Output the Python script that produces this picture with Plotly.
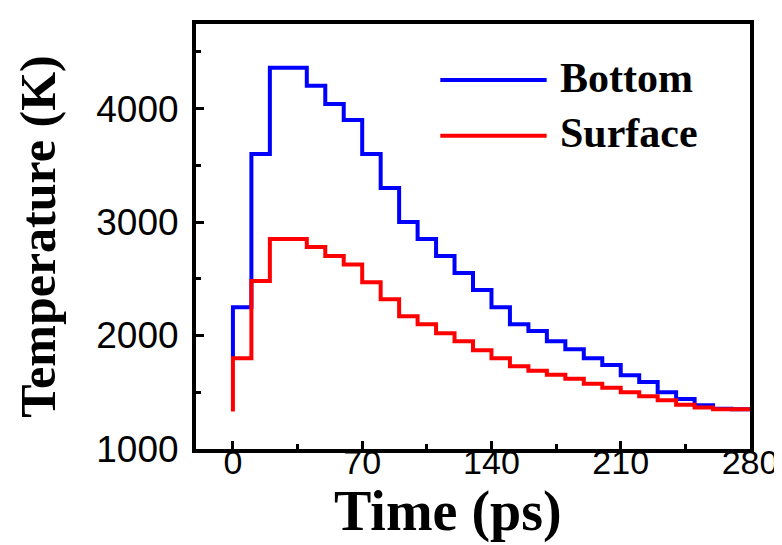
import plotly.graph_objects as go

time_ps = [0, 10, 20, 30, 40, 50, 60, 70, 80, 90, 100, 110, 120, 130, 140,
           150, 160, 170, 180, 190, 200, 210, 220, 230, 240, 250, 260, 270, 280]
bottom_K = [1800, 2250, 3600, 4360, 4360, 4200, 4040, 3900, 3600, 3300, 3000,
            2850, 2700, 2550, 2400, 2250, 2100, 2040, 1950, 1880, 1800, 1740,
            1650, 1590, 1500, 1440, 1385, 1355, 1350]
surface_K = [1330, 1800, 2480, 2850, 2850, 2780, 2700, 2625, 2470, 2320, 2170,
             2100, 2020, 1950, 1870, 1800, 1730, 1690, 1655, 1620, 1575, 1540,
             1500, 1465, 1430, 1390, 1365, 1350, 1350]
series_names = ["Bottom", "Surface"]
series_colors = ["#0000FF", "#FF0000"]
x_ticks = [0, 70, 140, 210, 280]
y_ticks = [1000, 2000, 3000, 4000]
x_title = "Time (ps)"
y_title = "Temperature (K)"

fig = go.Figure()
for name, vals, col in zip(series_names, [bottom_K, surface_K], series_colors):
    fig.add_trace(go.Scatter(x=time_ps, y=vals, name=name, mode="lines",
                             line=dict(color=col, width=4, shape="vh"),
                             showlegend=False))

# legend drawn as sample lines + labels (long line samples as in the reference)
leg_y = [0.868, 0.737]
for name, col, yy in zip(series_names, series_colors, leg_y):
    fig.add_shape(type="line", xref="paper", yref="paper", x0=0.441, x1=0.633,
                  y0=yy, y1=yy, line=dict(color=col, width=4))
    fig.add_annotation(xref="paper", yref="paper", x=0.654, y=yy + 0.006, text=name,
                       showarrow=False, xanchor="left", yanchor="middle",
                       font=dict(family="Liberation Serif", size=42, color="black",
                                 weight="bold"))

# x-axis title placed as in the reference (slightly left of centre)
fig.add_annotation(xref="paper", yref="paper", x=0.455, y=-0.146, text=x_title,
                   showarrow=False, xanchor="center", yanchor="middle",
                   font=dict(family="Liberation Serif", size=56, color="black",
                             weight="bold"))

axis_common = dict(showline=True, linecolor="black", linewidth=4, mirror=True,
                   ticks="inside", ticklen=8, tickwidth=3, tickcolor="black",
                   showgrid=False, zeroline=False)

fig.update_xaxes(range=[-20, 280], tickvals=x_ticks,
                 minor=dict(ticks="inside", ticklen=5, tickwidth=3,
                            tickcolor="black", dtick=35, tick0=0, showgrid=False),
                 ticklabelstandoff=-20,
                 tickfont=dict(family="Liberation Sans", size=34, color="black"),
                 **axis_common)
fig.update_yaxes(range=[1000, 4745], tickvals=y_ticks,
                 minor=dict(ticks="inside", ticklen=5, tickwidth=3,
                            tickcolor="black", dtick=500, tick0=0, showgrid=False),
                 ticklabelstandoff=6,
                 tickfont=dict(family="Liberation Sans", size=37, color="black"),
                 title=dict(text=y_title, standoff=26,
                            font=dict(family="Liberation Serif", size=50,
                                      color="black", weight="bold")),
                 **axis_common)

fig.update_layout(width=782, height=545, plot_bgcolor="white", paper_bgcolor="white",
                  margin=dict(l=188, r=38, t=16, b=104))

fig.write_html("out.html")
